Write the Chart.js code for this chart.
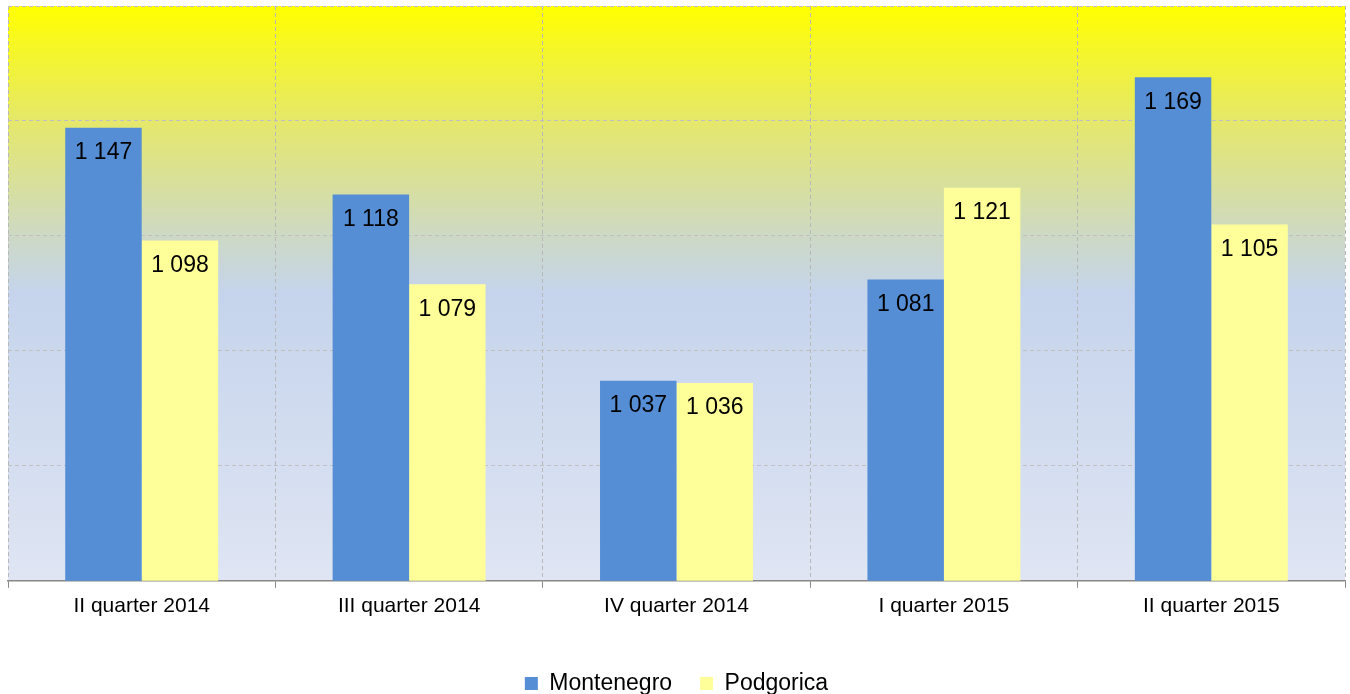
<!DOCTYPE html>
<html>
<head>
<meta charset="utf-8">
<script src="https://cdn.jsdelivr.net/npm/chart.js@4"></script>
<style>
  html, body { margin: 0; padding: 0; background: #fff; }
  #wrap { width: 1350px; height: 694px; }
</style>
</head>
<body>
<div id="wrap"><canvas id="salaryChart"></canvas></div>
<script>
const quarters = ['II quarter 2014', 'III quarter 2014', 'IV quarter 2014', 'I quarter 2015', 'II quarter 2015'];
const montenegro = [1147, 1118, 1037, 1081, 1169];
const podgorica = [1098, 1079, 1036, 1121, 1105];

const FONT = "'Liberation Sans', Arial, sans-serif";

// yellow-to-blue fill behind the plot area
const bgPlugin = {
    id: 'plotBackground',
    beforeDraw(chart) {
        const { ctx, chartArea: a } = chart;
        const g = ctx.createLinearGradient(0, a.top, 0, a.bottom);
        g.addColorStop(0, '#ffff00');
        g.addColorStop(0.2, '#e5e86a');
        g.addColorStop(0.4, '#cdd9c4');
        g.addColorStop(0.5, '#c5d4ec');
        g.addColorStop(1, '#dfe5f3');
        ctx.save();
        ctx.fillStyle = g;
        ctx.fillRect(a.left, a.top, a.right - a.left, a.bottom - a.top);
        ctx.restore();
    }
};

// value labels inside the top of each bar, "1 147" style
const labelPlugin = {
    id: 'barLabels',
    afterDatasetsDraw(chart) {
        const { ctx } = chart;
        ctx.save();
        ctx.font = '23px ' + FONT;
        ctx.fillStyle = '#000';
        ctx.textAlign = 'center';
        ctx.textBaseline = 'middle';
        chart.data.datasets.forEach((ds, i) => {
            chart.getDatasetMeta(i).data.forEach((bar, j) => {
                const txt = String(ds.data[j]).replace(/\B(?=(\d{3})+(?!\d))/g, ' ');
                ctx.fillText(txt, bar.x, bar.y + 25);
            });
        });
        ctx.restore();
    }
};

const ctx = document.getElementById('salaryChart').getContext('2d');
const chart = new Chart(ctx, {
    type: 'bar',
    data: {
        labels: quarters,
        datasets: [{
            label: 'Montenegro',
            data: montenegro,
            backgroundColor: '#558ed5',
            barPercentage: 1,
            categoryPercentage: 0.572
        }, {
            label: 'Podgorica',
            data: podgorica,
            backgroundColor: '#ffff99',
            barPercentage: 1,
            categoryPercentage: 0.572
        }]
    },
    options: {
        responsive: true,
        maintainAspectRatio: false,
        animation: false,
        layout: { padding: { left: 8, right: 5, top: 6, bottom: -11 } },
        scales: {
            x: {
                grid: { color: '#b8b8b8', tickColor: '#888', tickLength: 7, offset: true },
                border: { color: '#888', width: 1.5, dash: [4, 3] },
                ticks: { color: '#000', font: { family: FONT, size: 21 }, padding: 6 },
                afterFit(scale) { scale.height += 19; }
            },
            y: {
                min: 950,
                max: 1200,
                ticks: { display: false, stepSize: 50 },
                grid: { color: '#c0c0c0', drawTicks: false },
                border: { display: false, dash: [4, 3] }
            }
        },
        plugins: {
            legend: {
                position: 'bottom',
                labels: {
                    color: '#000',
                    font: { family: FONT, size: 23 },
                    boxWidth: 13,
                    boxHeight: 13,
                    padding: 28
                }
            },
            tooltip: { enabled: false }
        }
    },
    plugins: [bgPlugin, labelPlugin]
});
</script>
</body>
</html>
